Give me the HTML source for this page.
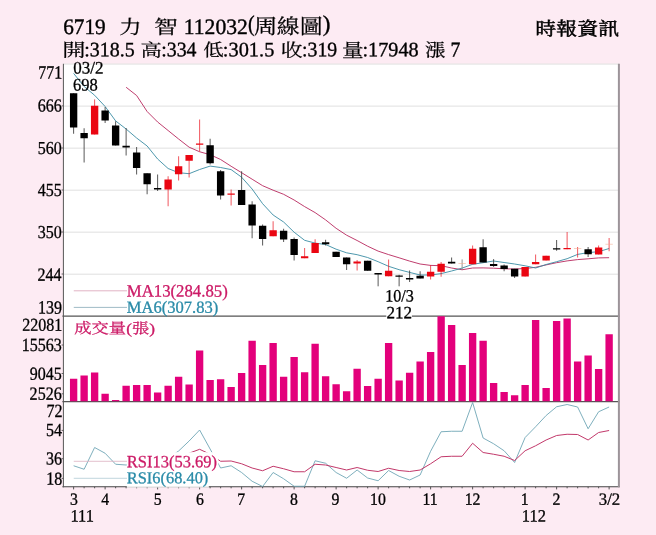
<!DOCTYPE html>
<html lang="zh-Hant"><head><meta charset="utf-8"><title>6719 力智 周線圖</title>
<style>html,body{margin:0;padding:0;background:#fdebf3;}body{width:656px;height:535px;overflow:hidden}</style>
</head><body>
<svg width="656" height="535" viewBox="0 0 656 535" style="display:block" font-family='"Liberation Serif","Noto Serif CJK SC",serif' font-size="20" text-rendering="geometricPrecision">
<rect width="656" height="535" fill="#fdebf3"/>
<rect x="63.4" y="63.8" width="555.6" height="423.0" fill="#fff"/>
<line x1="63.4" x2="619.0" y1="64.10" y2="64.10" stroke="#dcdcdc" stroke-width="0.9"/>
<line x1="63.4" x2="619.0" y1="106.12" y2="106.12" stroke="#dcdcdc" stroke-width="0.9"/>
<line x1="63.4" x2="619.0" y1="148.14" y2="148.14" stroke="#dcdcdc" stroke-width="0.9"/>
<line x1="63.4" x2="619.0" y1="190.16" y2="190.16" stroke="#dcdcdc" stroke-width="0.9"/>
<line x1="63.4" x2="619.0" y1="232.18" y2="232.18" stroke="#dcdcdc" stroke-width="0.9"/>
<line x1="63.4" x2="619.0" y1="274.20" y2="274.20" stroke="#dcdcdc" stroke-width="0.9"/>
<line x1="62.4" x2="619.5" y1="316.05" y2="316.05" stroke="#555" stroke-width="1.25"/>
<line x1="62.4" x2="619.5" y1="401.5" y2="401.5" stroke="#555" stroke-width="1.25"/>
<line x1="62.4" x2="619.7" y1="486.8" y2="486.8" stroke="#444" stroke-width="1.1"/>
<path d="M73.62 486.8V489.40M84.12 486.8V488.30M94.62 486.8V488.30M105.12 486.8V489.40M115.62 486.8V488.30M126.12 486.8V488.30M136.62 486.8V488.30M147.12 486.8V488.30M157.62 486.8V489.40M168.12 486.8V488.30M178.62 486.8V488.30M189.12 486.8V488.30M199.62 486.8V489.40M210.12 486.8V488.30M220.62 486.8V488.30M231.12 486.8V488.30M241.62 486.8V489.40M252.12 486.8V488.30M262.62 486.8V488.30M273.12 486.8V488.30M283.62 486.8V488.30M294.12 486.8V489.40M304.62 486.8V488.30M315.12 486.8V488.30M325.62 486.8V488.30M336.12 486.8V489.40M346.62 486.8V488.30M357.12 486.8V488.30M367.62 486.8V488.30M378.12 486.8V489.40M388.62 486.8V488.30M399.12 486.8V488.30M409.62 486.8V488.30M420.12 486.8V488.30M430.62 486.8V489.40M441.12 486.8V488.30M451.62 486.8V488.30M462.12 486.8V488.30M472.62 486.8V489.40M483.12 486.8V488.30M493.62 486.8V488.30M504.12 486.8V488.30M514.62 486.8V488.30M525.12 486.8V489.40M535.62 486.8V488.30M546.12 486.8V488.30M556.62 486.8V489.40M567.12 486.8V488.30M577.62 486.8V488.30M588.12 486.8V488.30M598.62 486.8V488.30M609.12 486.8V489.40" stroke="#444" stroke-width="0.9" fill="none"/>
<line x1="618.9" x2="618.9" y1="63.8" y2="487.3" stroke="#9c9499" stroke-width="2"/>
<line x1="63.4" x2="63.4" y1="63.8" y2="487.3" stroke="#555" stroke-width="1"/>
<path d="M61.6 105.9H63.4M61.6 148.0H63.4M61.6 190.0H63.4M61.6 232.0H63.4M61.6 274.0H63.4M61.6 345.0H63.4M61.6 373.5H63.4M61.6 393.8H63.4M61.6 430.4H63.4M61.6 458.7H63.4M61.6 478.4H63.4" stroke="#555" stroke-width="0.9" fill="none"/>
<path d="M69.95 401.2V378.75h7.35V401.2zM80.45 401.2V375.50h7.35V401.2zM90.95 401.2V372.50h7.35V401.2zM101.45 401.2V393.75h7.35V401.2zM111.95 401.2V400.00h7.35V401.2zM122.45 401.2V385.75h7.35V401.2zM132.95 401.2V385.00h7.35V401.2zM143.45 401.2V385.00h7.35V401.2zM153.95 401.2V392.50h7.35V401.2zM164.45 401.2V385.75h7.35V401.2zM174.95 401.2V376.75h7.35V401.2zM185.45 401.2V384.50h7.35V401.2zM195.95 401.2V350.50h7.35V401.2zM206.45 401.2V380.00h7.35V401.2zM216.95 401.2V379.25h7.35V401.2zM227.45 401.2V387.00h7.35V401.2zM237.95 401.2V373.00h7.35V401.2zM248.45 401.2V340.75h7.35V401.2zM258.95 401.2V365.00h7.35V401.2zM269.45 401.2V343.00h7.35V401.2zM279.95 401.2V376.75h7.35V401.2zM290.45 401.2V357.00h7.35V401.2zM300.95 401.2V372.25h7.35V401.2zM311.45 401.2V343.75h7.35V401.2zM321.95 401.2V376.25h7.35V401.2zM332.45 401.2V384.25h7.35V401.2zM342.95 401.2V391.25h7.35V401.2zM353.45 401.2V368.75h7.35V401.2zM363.95 401.2V386.00h7.35V401.2zM374.45 401.2V378.75h7.35V401.2zM384.95 401.2V343.00h7.35V401.2zM395.45 401.2V380.50h7.35V401.2zM405.95 401.2V372.75h7.35V401.2zM416.45 401.2V361.50h7.35V401.2zM426.95 401.2V352.00h7.35V401.2zM437.45 401.2V316.25h7.35V401.2zM447.95 401.2V325.00h7.35V401.2zM458.45 401.2V365.00h7.35V401.2zM468.95 401.2V333.00h7.35V401.2zM479.45 401.2V340.75h7.35V401.2zM489.95 401.2V383.00h7.35V401.2zM500.45 401.2V392.00h7.35V401.2zM510.95 401.2V395.25h7.35V401.2zM521.45 401.2V385.00h7.35V401.2zM531.95 401.2V320.00h7.35V401.2zM542.45 401.2V388.00h7.35V401.2zM552.95 401.2V321.00h7.35V401.2zM563.45 401.2V318.50h7.35V401.2zM573.95 401.2V361.50h7.35V401.2zM584.45 401.2V355.50h7.35V401.2zM594.95 401.2V369.00h7.35V401.2zM605.45 401.2V334.25h7.35V401.2z" fill="#e3007b"/>
<path d="M126.12 87.25L136.62 95.50L147.12 111.50L157.62 122.00L168.12 130.50L178.62 139.00L189.12 147.20L199.62 151.75L210.12 154.70L220.62 159.50L231.12 166.25L241.62 172.70L252.12 179.20L262.62 185.70L273.12 190.20L283.62 194.30L294.12 200.00L304.62 206.60L315.12 212.60L325.62 219.90L336.12 228.30L346.62 235.20L357.12 240.50L367.62 246.20L378.12 251.10L388.62 254.60L399.12 257.80L409.62 261.10L420.12 264.00L430.62 265.40L441.12 265.70L451.62 268.00L462.12 269.75L472.62 268.00L483.12 267.90L493.62 268.20L504.12 268.80L514.62 269.00L525.12 268.50L535.62 267.30L546.12 264.90L556.62 262.70L567.12 260.90L577.62 259.60L588.12 258.80L598.62 257.90L609.12 257.70" stroke="#b8285e" stroke-width="0.9" fill="none" stroke-linejoin="round" />
<path d="M73.62 73.40L84.12 86.50L94.62 95.25L105.12 106.50L115.62 120.90L126.12 129.00L136.62 138.00L147.12 146.00L157.62 159.00L168.12 168.50L178.62 172.70L189.12 173.70L199.62 169.50L210.12 166.10L220.62 167.50L231.12 169.60L241.62 177.20L252.12 189.00L262.62 203.70L273.12 215.00L283.62 222.00L294.12 232.20L304.62 240.30L315.12 243.10L325.62 244.50L336.12 249.20L346.62 252.80L357.12 254.70L367.62 257.50L378.12 261.70L388.62 266.30L399.12 269.70L409.62 272.40L420.12 275.00L430.62 275.00L441.12 273.60L451.62 271.00L462.12 268.10L472.62 264.30L483.12 262.70L493.62 261.00L504.12 262.50L514.62 264.00L525.12 265.80L535.62 268.00L546.12 264.50L556.62 261.70L567.12 258.70L577.62 254.40L588.12 252.60L598.62 251.70L609.12 248.50" stroke="#3a8ca4" stroke-width="0.9" fill="none" stroke-linejoin="round" />
<path d="M73.62 93.25V133.75M84.12 128.25V162.50M105.12 107.00V123.00M115.62 121.25V145.50M126.12 128.00V155.50M136.62 147.00V174.50M147.12 173.25V194.25M157.62 174.50V191.00M210.12 138.75V164.50M220.62 170.00V199.50M241.62 171.25V205.00M252.12 201.25V238.25M262.62 224.50V245.50M283.62 228.75V242.00M294.12 237.50V260.50M325.62 239.75V245.50M336.12 251.75V257.00M346.62 257.50V270.00M367.62 260.75V270.75M378.12 273.10V286.30M399.12 274.80V286.30M409.62 270.50V282.00M420.12 271.25V278.50M451.62 257.50V263.50M483.12 239.25V262.50M493.62 259.10V266.90M504.12 264.50V271.25M514.62 268.75V278.00M556.62 240.00V250.75M588.12 247.00V257.00" stroke="#3a3a3a" stroke-width="0.85" fill="none"/>
<path d="M462.12 259.40V270.00" stroke="#888" stroke-width="0.9" fill="none"/>
<path d="M94.62 99.40V134.50M168.12 176.25V206.25M178.62 156.25V180.50M189.12 155.00V177.50M199.62 119.50V151.50M231.12 189.50V205.50M273.12 221.25V236.25M304.62 248.00V258.25M315.12 239.25V253.00M357.12 260.00V270.50M388.62 259.50V276.25M430.62 265.00V279.50M441.12 262.00V276.75M472.62 245.50V264.25M525.12 267.00V276.50M535.62 254.50V264.25M546.12 255.75V260.50M567.12 232.00V249.25M577.62 247.00V257.50M598.62 245.50V254.50M609.12 238.00V251.25" stroke="#ea0612" stroke-width="0.8" fill="none" opacity="0.85"/>
<path d="M69.95 93.25h7.35V127.50h-7.35zM80.45 133.00h7.35V138.25h-7.35zM101.45 110.50h7.35V120.50h-7.35zM111.95 125.50h7.35V145.50h-7.35zM122.45 145.75h7.35V147.50h-7.35zM132.95 152.50h7.35V168.00h-7.35zM143.45 173.25h7.35V184.25h-7.35zM153.95 188.00h7.35V189.50h-7.35zM206.45 145.25h7.35V163.25h-7.35zM216.95 171.25h7.35V195.50h-7.35zM237.95 190.00h7.35V205.00h-7.35zM248.45 204.50h7.35V225.50h-7.35zM258.95 225.75h7.35V239.00h-7.35zM279.95 230.75h7.35V239.50h-7.35zM290.45 239.00h7.35V255.00h-7.35zM321.95 242.25h7.35V244.25h-7.35zM332.45 251.75h7.35V257.00h-7.35zM342.95 257.50h7.35V264.25h-7.35zM363.95 260.75h7.35V270.75h-7.35zM374.45 273.10h7.35V274.60h-7.35zM395.45 275.60h7.35V276.70h-7.35zM405.95 278.00h7.35V279.50h-7.35zM416.45 275.75h7.35V278.50h-7.35zM447.95 261.75h7.35V263.50h-7.35zM479.45 247.25h7.35V262.50h-7.35zM489.95 264.00h7.35V265.90h-7.35zM500.45 265.50h7.35V269.00h-7.35zM510.95 268.75h7.35V276.50h-7.35zM552.95 248.25h7.35V249.50h-7.35zM584.45 249.25h7.35V254.25h-7.35z" fill="#000"/>
<path d="M90.95 105.80h7.35V134.50h-7.35zM164.45 179.50h7.35V189.50h-7.35zM174.95 166.25h7.35V174.25h-7.35zM185.45 155.00h7.35V160.75h-7.35zM195.95 143.50h7.35V144.75h-7.35zM227.45 193.50h7.35V194.75h-7.35zM269.45 230.25h7.35V236.25h-7.35zM300.95 256.25h7.35V258.25h-7.35zM311.45 243.00h7.35V253.00h-7.35zM353.45 261.50h7.35V263.50h-7.35zM384.95 270.75h7.35V276.25h-7.35zM426.95 271.75h7.35V276.50h-7.35zM437.45 263.75h7.35V271.75h-7.35zM468.95 248.75h7.35V264.25h-7.35zM521.45 267.00h7.35V276.50h-7.35zM531.95 262.00h7.35V264.25h-7.35zM542.45 255.75h7.35V260.50h-7.35zM563.45 248.00h7.35V249.25h-7.35zM594.95 247.50h7.35V254.50h-7.35z" fill="#ea0612"/>
<path d="M458.45 263.50h7.35M573.95 248.50h7.35M605.45 244.25h7.35" stroke="#f3a98c" stroke-width="0.55" fill="none"/>
<path d="M73.62 465.75L84.12 469.25L94.62 447.50L105.12 453.25L115.62 464.25L126.12 465.00L136.62 463.00L147.12 462.00L157.62 461.00L168.12 458.00L178.62 451.00L189.12 441.00L199.62 430.00L210.12 449.00L220.62 468.00L231.12 465.75L241.62 472.50L252.12 481.25L262.62 486.50L273.12 472.50L283.62 478.75L294.12 486.25L304.62 486.25L315.12 460.75L325.62 463.25L336.12 472.50L346.62 478.25L357.12 470.00L367.62 478.00L378.12 480.75L388.62 470.50L399.12 476.25L409.62 480.00L420.12 475.00L430.62 451.25L441.12 431.75L451.62 431.25L462.12 431.25L472.62 402.50L483.12 438.00L493.62 443.75L504.12 450.75L514.62 462.50L525.12 437.50L535.62 426.75L546.12 415.50L556.62 406.75L567.12 404.50L577.62 407.00L588.12 428.75L598.62 411.75L609.12 407.00" stroke="#6fa6b6" stroke-width="0.9" fill="none" stroke-linejoin="round" />
<path d="M178.62 457.00L189.12 453.20L199.62 449.30L210.12 454.20L220.62 461.25L231.12 461.00L241.62 463.75L252.12 468.00L262.62 470.75L273.12 466.25L283.62 468.75L294.12 471.75L304.62 471.75L315.12 464.25L325.62 465.00L336.12 467.50L346.62 470.00L357.12 467.50L367.62 470.25L378.12 471.50L388.62 468.25L399.12 470.50L409.62 471.50L420.12 470.00L430.62 463.75L441.12 456.75L451.62 456.25L462.12 456.25L472.62 443.25L483.12 452.50L493.62 454.25L504.12 456.25L514.62 460.50L525.12 450.75L535.62 445.75L546.12 440.00L556.62 435.50L567.12 434.25L577.62 434.50L588.12 440.00L598.62 432.50L609.12 430.50" stroke="#c2386a" stroke-width="1.0" fill="none" stroke-linejoin="round" />
<rect x="126.8" y="452.2" width="91.5" height="16.4" fill="#fff"/>
<rect x="126.8" y="470.8" width="82" height="16.7" fill="#fff" opacity="0.88"/>
<rect x="386.3" y="306" width="25.6" height="12.5" fill="#fff"/>
<line x1="73.75" x2="127" y1="290.8" y2="290.8" stroke="#d9a0b6" stroke-width="0.8"/>
<line x1="73.75" x2="127" y1="307.4" y2="307.4" stroke="#86aab8" stroke-width="0.8"/>
<line x1="73.75" x2="127" y1="461.3" y2="461.3" stroke="#dcb0c0" stroke-width="0.8"/>
<line x1="73.75" x2="127" y1="478.3" y2="478.3" stroke="#b0ccd4" stroke-width="0.8"/>
<text transform="matrix(1.0625 0.001 0 1.1045 63.15 33.88)" fill="#000" stroke="#000" stroke-width="0.35">6719</text>
<text transform="matrix(1.1163 0.001 0 0.9568 119.20 33.77)" fill="#000" stroke="#000" stroke-width="0.25">力</text>
<text transform="matrix(1.2044 0.001 0 0.9622 153.92 33.76)" fill="#000" stroke="#000" stroke-width="0.25">智</text>
<text transform="matrix(1.0822 0.001 0 1.0963 183.76 33.88)" fill="#000" stroke="#000" stroke-width="0.35">112032</text>
<text transform="matrix(1.0000 0.001 0 1.1374 248.10 31.31)" fill="#000" stroke="#000" stroke-width="0.35">(</text>
<text transform="matrix(1.1475 0.001 0 1.0486 253.90 33.72)" fill="#000" stroke="#000" stroke-width="0.25">周線圖</text>
<text transform="matrix(1.1538 0.001 0 1.1374 322.81 31.31)" fill="#000" stroke="#000" stroke-width="0.35">)</text>
<text transform="matrix(1.1647 0.001 0 0.9227 62.19 56.53)" fill="#000" stroke="#000" stroke-width="0.25">開</text>
<text transform="matrix(0.9968 0.001 0 1.0222 84.30 56.20)" fill="#000" stroke="#000" stroke-width="0.35">:318.5</text>
<text transform="matrix(1.0663 0.001 0 0.8883 140.43 56.59)" fill="#000" stroke="#000" stroke-width="0.25">高</text>
<text transform="matrix(0.9924 0.001 0 1.0299 161.21 56.19)" fill="#000" stroke="#000" stroke-width="0.35">:334</text>
<text transform="matrix(1.0266 0.001 0 0.8836 203.18 56.24)" fill="#000" stroke="#000" stroke-width="0.25">低</text>
<text transform="matrix(1.0174 0.001 0 1.0222 222.87 56.20)" fill="#000" stroke="#000" stroke-width="0.35">:301.5</text>
<text transform="matrix(1.0924 0.001 0 0.8978 280.69 56.57)" fill="#000" stroke="#000" stroke-width="0.25">收</text>
<text transform="matrix(0.9923 0.001 0 1.0299 302.01 56.19)" fill="#000" stroke="#000" stroke-width="0.35">:319</text>
<text transform="matrix(1.0884 0.001 0 0.9382 342.11 56.97)" fill="#000" stroke="#000" stroke-width="0.25">量</text>
<text transform="matrix(1.0121 0.001 0 1.0222 362.48 56.20)" fill="#000" stroke="#000" stroke-width="0.35">:17948</text>
<text transform="matrix(1.0266 0.001 0 0.9076 424.98 56.56)" fill="#000" stroke="#000" stroke-width="0.25">漲</text>
<text transform="matrix(0.9878 0.001 0 1.0534 450.62 56.40)" fill="#000" stroke="#000" stroke-width="0.35">7</text>
<text transform="matrix(1.0476 0.001 0 0.9296 535.33 35.20)" fill="#000" stroke="#000" stroke-width="0.55">時報資訊</text>
<text transform="matrix(0.8517 0.001 0 0.8741 73.15 73.43)" fill="#000" stroke="#000" stroke-width="0.35">03/2</text>
<text transform="matrix(0.8246 0.001 0 0.8778 73.09 90.42)" fill="#000" stroke="#000" stroke-width="0.35">698</text>
<text transform="matrix(0.8053 0.001 0 0.8667 385.23 301.43)" fill="#000" stroke="#000" stroke-width="0.35">10/3</text>
<text transform="matrix(0.8541 0.001 0 0.8636 386.52 318.30)" fill="#000" stroke="#000" stroke-width="0.35">212</text>
<text transform="matrix(0.8373 0.001 0 0.8657 126.78 296.53)" fill="#cc1a66" stroke="#cc1a66" stroke-width="0.35">MA13(284.85)</text>
<text transform="matrix(0.8279 0.001 0 0.8507 126.79 312.73)" fill="#2a8ba8" stroke="#2a8ba8" stroke-width="0.35">MA6(307.83)</text>
<text transform="matrix(0.8644 0.001 0 0.7380 74.28 333.37)" fill="#cc1a66" stroke="#cc1a66" stroke-width="0.4">成交量(張)</text>
<text transform="matrix(0.8253 0.001 0 0.8582 126.79 467.13)" fill="#cc1a66" stroke="#cc1a66" stroke-width="0.35">RSI13(53.69)</text>
<text transform="matrix(0.8197 0.001 0 0.8284 126.79 483.23)" fill="#2a8ba8" stroke="#2a8ba8" stroke-width="0.35">RSI6(68.40)</text>
<text transform="matrix(0.8237 0.001 0 0.8636 70.40 521.50)" fill="#000" stroke="#000" stroke-width="0.35">111</text>
<text transform="matrix(0.8240 0.001 0 0.8636 521.80 521.50)" fill="#000" stroke="#000" stroke-width="0.35">112</text>
<text transform="matrix(0.8405 0.001 0 0.8582 598.74 504.63)" fill="#000" stroke="#000" stroke-width="0.35">3/2</text>
<text transform="matrix(0.7897 0.001 0 0.8519 69.97 504.63)" fill="#000" stroke="#000" stroke-width="0.35">3</text>
<text transform="matrix(0.7897 0.001 0 0.8519 101.35 504.63)" fill="#000" stroke="#000" stroke-width="0.35">4</text>
<text transform="matrix(0.7897 0.001 0 0.8519 153.69 504.63)" fill="#000" stroke="#000" stroke-width="0.35">5</text>
<text transform="matrix(0.7897 0.001 0 0.8519 195.93 504.63)" fill="#000" stroke="#000" stroke-width="0.35">6</text>
<text transform="matrix(0.7897 0.001 0 0.8519 237.34 504.63)" fill="#000" stroke="#000" stroke-width="0.35">7</text>
<text transform="matrix(0.7897 0.001 0 0.8519 289.95 504.63)" fill="#000" stroke="#000" stroke-width="0.35">8</text>
<text transform="matrix(0.7897 0.001 0 0.8519 331.43 504.63)" fill="#000" stroke="#000" stroke-width="0.35">9</text>
<text transform="matrix(0.7897 0.001 0 0.8519 370.11 504.63)" fill="#000" stroke="#000" stroke-width="0.35">10</text>
<text transform="matrix(0.7897 0.001 0 0.8519 422.40 504.63)" fill="#000" stroke="#000" stroke-width="0.35">11</text>
<text transform="matrix(0.7897 0.001 0 0.8519 464.67 504.63)" fill="#000" stroke="#000" stroke-width="0.35">12</text>
<text transform="matrix(0.7897 0.001 0 0.8519 520.75 504.63)" fill="#000" stroke="#000" stroke-width="0.35">1</text>
<text transform="matrix(0.7897 0.001 0 0.8519 552.57 504.63)" fill="#000" stroke="#000" stroke-width="0.35">2</text>
<text transform="matrix(0.8021 0.001 0 0.9280 38.20 78.50)" fill="#000" stroke="#000" stroke-width="0.35">771</text>
<text transform="matrix(0.8021 0.001 0 0.9179 37.64 111.57)" fill="#000" stroke="#000" stroke-width="0.35">666</text>
<text transform="matrix(0.8021 0.001 0 0.9111 37.80 154.07)" fill="#000" stroke="#000" stroke-width="0.35">560</text>
<text transform="matrix(0.8021 0.001 0 0.9179 37.80 195.97)" fill="#000" stroke="#000" stroke-width="0.35">455</text>
<text transform="matrix(0.8021 0.001 0 0.9111 37.80 238.07)" fill="#000" stroke="#000" stroke-width="0.35">350</text>
<text transform="matrix(0.8021 0.001 0 0.9318 37.48 280.65)" fill="#000" stroke="#000" stroke-width="0.35">244</text>
<text transform="matrix(0.8021 0.001 0 0.9403 37.88 313.61)" fill="#000" stroke="#000" stroke-width="0.35">139</text>
<text transform="matrix(0.8021 0.001 0 0.9074 22.16 330.82)" fill="#000" stroke="#000" stroke-width="0.35">22081</text>
<text transform="matrix(0.8021 0.001 0 0.9328 21.76 351.06)" fill="#000" stroke="#000" stroke-width="0.35">15563</text>
<text transform="matrix(0.8021 0.001 0 0.9259 29.78 379.81)" fill="#000" stroke="#000" stroke-width="0.35">9045</text>
<text transform="matrix(0.8021 0.001 0 0.9328 29.62 399.81)" fill="#000" stroke="#000" stroke-width="0.35">2526</text>
<text transform="matrix(0.8021 0.001 0 0.9318 46.54 416.90)" fill="#000" stroke="#000" stroke-width="0.35">72</text>
<text transform="matrix(0.8021 0.001 0 0.9179 45.90 436.02)" fill="#000" stroke="#000" stroke-width="0.35">54</text>
<text transform="matrix(0.8021 0.001 0 0.9179 46.06 464.42)" fill="#000" stroke="#000" stroke-width="0.35">36</text>
<text transform="matrix(0.8021 0.001 0 0.9185 46.22 484.62)" fill="#000" stroke="#000" stroke-width="0.35">18</text>
</svg>
</body></html>
